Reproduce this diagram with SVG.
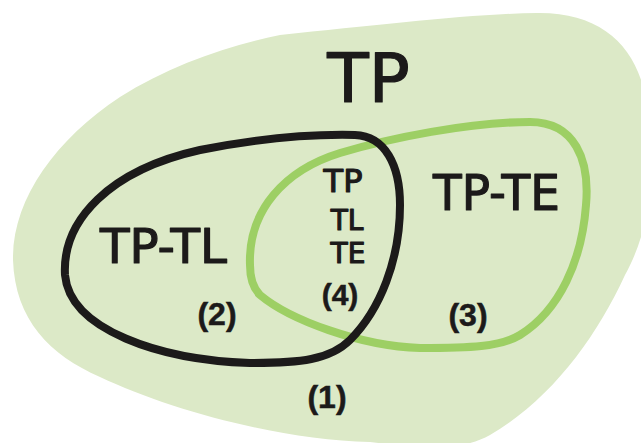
<svg xmlns="http://www.w3.org/2000/svg" width="641" height="443" viewBox="0 0 641 443">
  <style>
    .lbl { font-family: "DejaVu Sans", "Liberation Sans", sans-serif; fill: #1c1a1a; stroke: #1c1a1a; stroke-width: 1.2; stroke-linejoin: round; text-anchor: middle; }
    .num { font-family: "Liberation Sans", "DejaVu Sans", sans-serif; font-weight: bold; fill: #1c1a1a; stroke: #1c1a1a; stroke-width: 0.5; text-anchor: middle; }
    .loop { fill: none; stroke-linejoin: round; }
  </style>
  <rect width="641" height="443" fill="#ffffff"/>
  <g id="tp">
    <path d="M 280,35 C 380,25 470,14 537,13 C 600,12 635,45 645,95 C 660,165 650,230 625,275 C 595,340 550,400 490,435 C 460,452 420,448 370,442 C 280,440 170,410 100,377 C 50,355 15,320 13,260 C 12,200 55,140 120,97 C 170,65 230,45 280,35 Z" fill="#dce9c7"/>
    <text class="lbl" x="368.5" y="102" font-size="68">TP</text>
  </g>
  <g id="tp-te">
    <path class="loop" d="M 250,265 C 248,210 285,170 340,153 C 390,138 470,122 530,122 C 575,122 590,160 586,205 C 582,260 560,310 520,335 C 500,347 470,348 420,348 C 360,346 290,320 260,295 C 252,287 250,277 250,265 Z" stroke="#9dcf64" stroke-width="8"/>
    <text class="lbl" x="496.5" y="210" font-size="50" textLength="127" lengthAdjust="spacingAndGlyphs">TP-TE</text>
    <text class="num" x="468" y="326" font-size="32">(3)</text>
  </g>
  <g id="tp-tl">
    <path class="loop" d="M 65,275 C 62,220 110,170 200,150 C 260,138 310,134 355,135 C 385,136 400,165 400,205 C 400,260 380,310 350,340 C 330,360 300,363 250,363 C 160,360 70,330 65,275 Z" stroke="#1c1a1a" stroke-width="8"/>
    <text class="lbl" x="163.5" y="263" font-size="48" textLength="127" lengthAdjust="spacingAndGlyphs">TP-TL</text>
    <text class="num" x="217" y="325" font-size="32">(2)</text>
  </g>
  <g id="intersection">
    <text class="lbl" x="343" y="192" font-size="32">TP</text>
    <text class="lbl" x="347" y="230" font-size="28">TL</text>
    <text class="lbl" x="348" y="263" font-size="28">TE</text>
    <text class="num" x="340" y="305" font-size="30">(4)</text>
  </g>
  <g id="outside">
    <text class="num" x="327" y="408" font-size="32">(1)</text>
  </g>
  <g id="connectors"/>
</svg>
